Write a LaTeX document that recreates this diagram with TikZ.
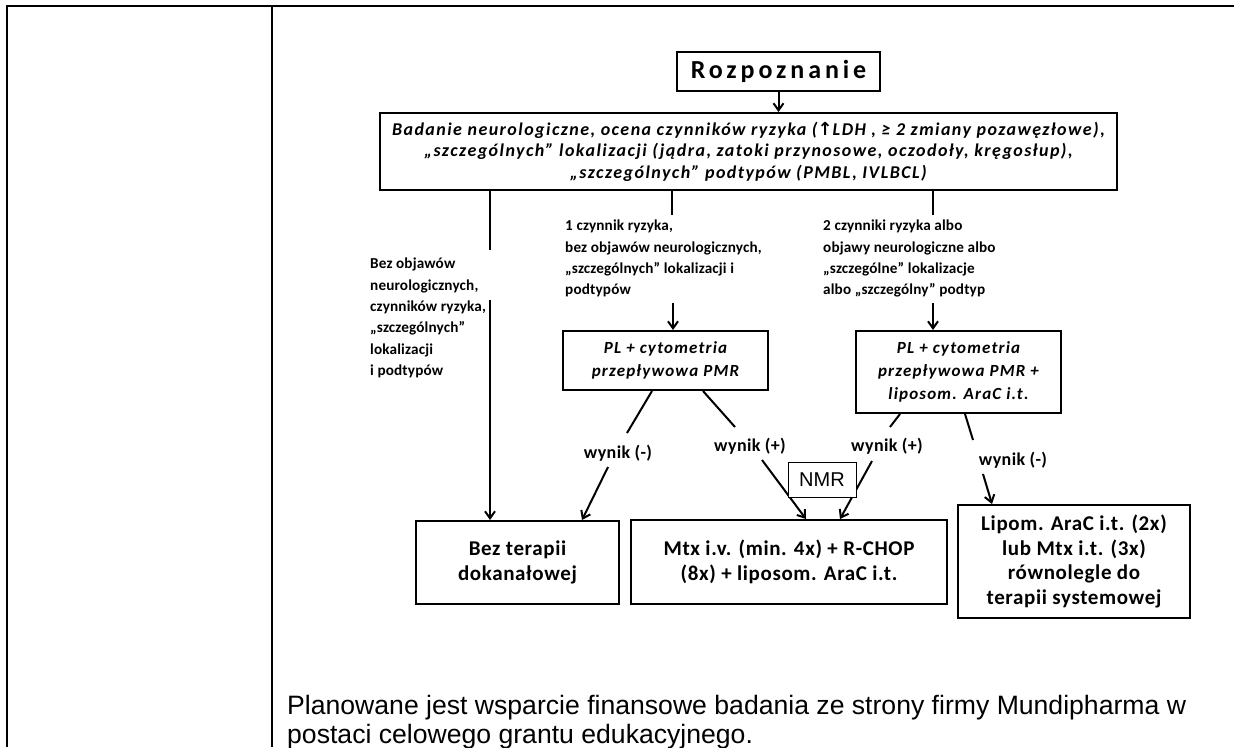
\documentclass[tikz,border=0pt]{standalone}
\usepackage{fontspec}
\setmainfont{Carlito}
\newfontfamily\arialf{Liberation Sans}
\newfontfamily\symf{DejaVu Sans}
\newfontfamily\cspaceone{Carlito}[LetterSpace=1]
\newfontfamily\cspacetwo{Carlito}[LetterSpace=2]
\newfontfamily\cspacethree{Carlito}[LetterSpace=3]
\newfontfamily\cspaceseven{Carlito}[LetterSpace=7]
\newfontfamily\cspaceeight{Carlito}[LetterSpace=8]
\newfontfamily\cspacewide{Carlito}[LetterSpace=15]
\usetikzlibrary{arrows.meta,calc}
\begin{document}
\begin{tikzpicture}[x=1pt,y=-1pt,
  box/.style={draw,line width=2pt,fill=white,inner sep=0pt,align=center},
  lbl/.style={inner sep=0pt,align=left,anchor=north west,font=\cspaceone\bfseries\fontsize{15.2}{21.3}\selectfont},
  wyn/.style={inner sep=0pt,font=\cspacetwo\bfseries\fontsize{18}{20}\selectfont},
  ln/.style={line width=2pt},
  arr/.style={line width=2pt,-{Straight Barb[length=7pt,width=10pt,line width=2pt]}},
  bigit/.style={font=\cspaceeight\bfseries\itshape\fontsize{18}{21.5}\selectfont},
  plit/.style={font=\cspaceseven\bfseries\itshape\fontsize{17}{23}\selectfont},
  bottomtxt/.style={font=\cspacethree\bfseries\fontsize{21}{24.8}\selectfont},
]
\useasboundingbox (0,0) rectangle (1234,747);
% table frame
\draw[line width=2pt] (7,747) -- (7,6) -- (1234,6);
\draw[line width=2pt] (272,6) -- (272,747);

% boxes
\node[box,minimum width=203pt,minimum height=39pt,font=\cspacewide\bfseries\fontsize{26}{30}\selectfont] (roz) at (778.5,71.5) {Rozpoznanie};
\node[box,bigit,minimum width=737pt,minimum height=77pt] (bada) at (748.5,151.5)
 {Badanie neurologiczne, ocena czynników ryzyka  ({\symf ↑}LDH , ≥ 2 zmiany pozawęzłowe),\\
  „szczególnych” lokalizacji (jądra, zatoki przynosowe, oczodoły, kręgosłup),\\
  „szczególnych” podtypów (PMBL, IVLBCL)};
\node[box,plit,minimum width=205pt,minimum height=59pt] (pl1) at (665.5,360.5)
 {PL + cytometria\\ przepływowa PMR};
\node[box,plit,minimum width=205pt,minimum height=82pt] (pl2) at (958.5,372)
 {PL + cytometria\\ przepływowa PMR +\\ liposom. AraC i.t.};
\node[box,bottomtxt,minimum width=203pt,minimum height=83pt] (bez) at (517.5,562.5)
 {Bez terapii\\ dokanałowej};
\node[box,bottomtxt,minimum width=316pt,minimum height=84pt] (mtx) at (789,562)
 {Mtx i.v. (min. 4x) + R-CHOP\\ (8x) + liposom. AraC i.t.};
\node[box,bottomtxt,minimum width=232pt,minimum height=113pt] (lip) at (1074,561.5)
 {Lipom. AraC i.t. (2x)\\ lub Mtx i.t.  (3x)\\ równolegle do\\ terapii systemowej};

% labels
\node[lbl] (lab1) at (370,258) {Bez objawów\\ neurologicznych,\\ czynników ryzyka,\\ „szczególnych”\\ lokalizacji\\ i podtypów};
\node[lbl] (lab2) at (565,220) {1 czynnik ryzyka,\\ bez objawów neurologicznych,\\ „szczególnych” lokalizacji  i\\ podtypów};
\node[lbl] (lab3) at (823,220) {2 czynniki ryzyka albo\\ objawy neurologiczne albo\\ „szczególne” lokalizacje\\ albo „szczególny” podtyp};
\node[wyn] (w1) at (618,453) {wynik (-)};
\node[wyn] (w2) at (750,446) {wynik (+)};
\node[wyn] (w3) at (887,446) {wynik (+)};
\node[wyn] (w4) at (1013,460) {wynik (-)};

% connectors
\draw[arr] (roz.south) -- (roz.south |- bada.north);
\coordinate (c1) at (490,250);
\draw[ln] (bada.south -| c1) -- (c1);
\coordinate (c1b) at (490,300);
\draw[arr] (c1b) -- (c1b |- bez.north);
\coordinate (c2) at (672,215);
\draw[ln] (bada.south -| c2) -- (c2);
\coordinate (c2b) at (673,303);
\draw[arr] (c2b) -- (c2b |- pl1.north);
\coordinate (c3) at (933,215);
\draw[ln] (bada.south -| c3) -- (c3);
\coordinate (c3b) at (933,303);
\draw[arr] (c3b) -- (c3b |- pl2.north);

\coordinate (d1) at (627,433);
\draw[ln] ($(pl1.south)+(-13.5,0)$) -- (d1);
\coordinate (d1b) at (608,467);
\draw[arr] (d1b) -- ($(bez.north)+(64.5,0)$);
\coordinate (d2) at (735,427);
\draw[ln] ($(pl1.south)+(37.5,0)$) -- (d2);
\coordinate (d2b) at (762,460);
\draw[arr] (d2b) -- ($(mtx.north)+(17,0)$);
\coordinate (d3) at (890,427);
\draw[ln] ($(pl2.south)+(-58.5,0)$) -- (d3);
\coordinate (d3b) at (872,461);
\draw[arr] (d3b) -- ($(mtx.north)+(51,0)$);
\coordinate (d4) at (973,440);
\draw[ln] ($(pl2.south)+(6.5,0)$) -- (d4);
\coordinate (d4b) at (983,474);
\draw[arr] (d4b) -- ($(lip.north)+(-82,0)$);

\node[draw,line width=1pt,fill=white,inner sep=0pt,minimum width=68pt,minimum height=35pt,font=\arialf\fontsize{20}{24}\selectfont] (nmr) at (822,479.5) {NMR};

% bottom paragraph
\node[inner sep=0pt,anchor=north west,align=left,font=\arialf\fontsize{26.6}{29}\selectfont] (fin) at (287,695)
 {Planowane jest wsparcie finansowe badania ze strony firmy Mundipharma w\\ postaci celowego grantu edukacyjnego.};
\end{tikzpicture}
\end{document}
